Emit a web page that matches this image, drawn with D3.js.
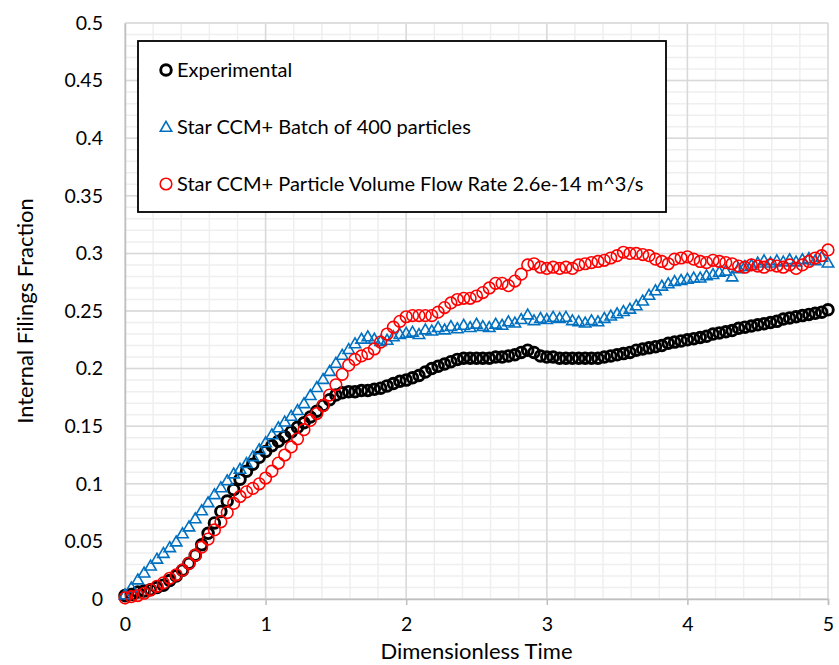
<!DOCTYPE html>
<html>
<head>
<meta charset="utf-8">
<script src="https://cdn.jsdelivr.net/npm/d3@7"></script>
<style>
  body { margin: 0; background: #fff; }
  svg text { font-family: Lato, "Open Sans", sans-serif; fill: #000; }
</style>
</head>
<body>
<svg id="chart" width="839" height="665"></svg>
<script>
// Sampling times (dimensionless), shared by all three series
const dimensionlessTime = [
  0.000, 0.045, 0.091, 0.136, 0.182, 0.227, 0.273, 0.318, 0.364, 0.409, 0.455,
  0.500, 0.545, 0.591, 0.636, 0.682, 0.727, 0.773, 0.818, 0.864, 0.909, 0.955,
  1.000, 1.045, 1.091, 1.136, 1.182, 1.227, 1.273, 1.318, 1.364, 1.409, 1.455,
  1.500, 1.545, 1.591, 1.636, 1.682, 1.727, 1.773, 1.818, 1.864, 1.909, 1.955,
  2.000, 2.045, 2.091, 2.136, 2.182, 2.227, 2.273, 2.318, 2.364, 2.409, 2.455,
  2.500, 2.545, 2.591, 2.636, 2.682, 2.727, 2.773, 2.818, 2.864, 2.909, 2.955,
  3.000, 3.045, 3.091, 3.136, 3.182, 3.227, 3.273, 3.318, 3.364, 3.409, 3.455,
  3.500, 3.545, 3.591, 3.636, 3.682, 3.727, 3.773, 3.818, 3.864, 3.909, 3.955,
  4.000, 4.045, 4.091, 4.136, 4.182, 4.227, 4.273, 4.318, 4.364, 4.409, 4.455,
  4.500, 4.545, 4.591, 4.636, 4.682, 4.727, 4.773, 4.818, 4.864, 4.909, 4.955,
  5.000
];

// Internal filings fraction, experiment
const experimental = [
  0.003, 0.004, 0.006, 0.007, 0.008, 0.010, 0.012, 0.016, 0.020, 0.025, 0.031,
  0.038, 0.047, 0.057, 0.066, 0.076, 0.085, 0.095, 0.104, 0.111, 0.117, 0.123,
  0.128, 0.133, 0.137, 0.141, 0.145, 0.149, 0.153, 0.158, 0.163, 0.168, 0.173,
  0.177, 0.179, 0.180, 0.180, 0.181, 0.181, 0.182, 0.183, 0.185, 0.187, 0.189,
  0.190, 0.192, 0.194, 0.197, 0.200, 0.202, 0.204, 0.206, 0.208, 0.209, 0.209,
  0.209, 0.209, 0.209, 0.210, 0.210, 0.211, 0.212, 0.214, 0.216, 0.214, 0.211,
  0.210, 0.210, 0.209, 0.209, 0.209, 0.209, 0.209, 0.209, 0.209, 0.210, 0.211,
  0.212, 0.213, 0.214, 0.216, 0.217, 0.218, 0.219, 0.220, 0.222, 0.223, 0.224,
  0.225, 0.226, 0.227, 0.228, 0.230, 0.231, 0.232, 0.233, 0.235, 0.236, 0.237,
  0.238, 0.239, 0.240, 0.241, 0.243, 0.244, 0.245, 0.246, 0.247, 0.248, 0.249,
  0.251
];

// Star CCM+ simulation, batch of 400 particles
const batch400 = [
  0.003, 0.009, 0.016, 0.022, 0.028, 0.034, 0.039, 0.044, 0.049, 0.056, 0.062,
  0.069, 0.076, 0.083, 0.090, 0.096, 0.102, 0.108, 0.112, 0.117, 0.123, 0.129,
  0.135, 0.142, 0.148, 0.153, 0.158, 0.163, 0.169, 0.176, 0.183, 0.190, 0.197,
  0.204, 0.211, 0.216, 0.221, 0.225, 0.227, 0.225, 0.223, 0.224, 0.227, 0.229,
  0.230, 0.231, 0.229, 0.233, 0.232, 0.235, 0.233, 0.236, 0.234, 0.237, 0.235,
  0.238, 0.236, 0.235, 0.238, 0.237, 0.240, 0.239, 0.242, 0.246, 0.241, 0.243,
  0.242, 0.244, 0.243, 0.244, 0.241, 0.240, 0.239, 0.241, 0.240, 0.243, 0.245,
  0.247, 0.249, 0.251, 0.254, 0.258, 0.263, 0.267, 0.271, 0.273, 0.275, 0.276,
  0.277, 0.278, 0.278, 0.280, 0.281, 0.283, 0.284, 0.279, 0.286, 0.288, 0.289,
  0.291, 0.293, 0.291, 0.293, 0.292, 0.294, 0.292, 0.294, 0.295, 0.293, 0.296,
  0.291
];

// Star CCM+ simulation, particle volume flow rate 2.6e-14 m^3/s
const volumeFlowRate = [
  0.001, 0.002, 0.003, 0.005, 0.008, 0.011, 0.014, 0.018, 0.021, 0.025, 0.031,
  0.038, 0.045, 0.052, 0.060, 0.067, 0.075, 0.083, 0.089, 0.093, 0.096, 0.100,
  0.105, 0.111, 0.118, 0.125, 0.132, 0.139, 0.147, 0.155, 0.161, 0.168, 0.177,
  0.186, 0.195, 0.203, 0.208, 0.211, 0.213, 0.217, 0.223, 0.230, 0.236, 0.241,
  0.245, 0.246, 0.246, 0.246, 0.246, 0.249, 0.253, 0.257, 0.260, 0.261, 0.261,
  0.263, 0.266, 0.270, 0.274, 0.274, 0.272, 0.276, 0.282, 0.290, 0.291, 0.288,
  0.287, 0.288, 0.287, 0.288, 0.287, 0.290, 0.291, 0.292, 0.293, 0.294, 0.296,
  0.298, 0.301, 0.300, 0.300, 0.299, 0.298, 0.295, 0.293, 0.291, 0.295, 0.296,
  0.297, 0.295, 0.293, 0.292, 0.294, 0.293, 0.292, 0.291, 0.289, 0.288, 0.290,
  0.289, 0.288, 0.290, 0.289, 0.288, 0.290, 0.287, 0.290, 0.293, 0.296, 0.298,
  0.303
];

const seriesNames = [
  "Experimental",
  "Star CCM+ Batch of 400 particles",
  "Star CCM+ Particle Volume Flow Rate 2.6e-14 m^3/s"
];

const xTicks = [0, 1, 2, 3, 4, 5];
const yTicks = [0, 0.05, 0.1, 0.15, 0.2, 0.25, 0.3, 0.35, 0.4, 0.45, 0.5];
const xTitle = "Dimensionless Time";
const yTitle = "Internal Filings Fraction";

const svg = d3.select("#chart");
const margin = { left: 125, right: 11, top: 23, bottom: 66 };
const W = 839, H = 665;

const x = d3.scaleLinear().domain([0, 5]).range([margin.left, W - margin.right]);
const y = d3.scaleLinear().domain([0, 0.5]).range([H - margin.bottom, margin.top]);

// Minor grid
const grid = svg.append("g");
grid.selectAll(".vminor").data(d3.range(0, 5.0001, 0.2)).join("line")
  .attr("x1", d => x(d)).attr("x2", d => x(d))
  .attr("y1", y(0)).attr("y2", y(0.5))
  .attr("stroke", "#efefef").attr("stroke-width", 1.5);
grid.selectAll(".hminor").data(d3.range(0, 0.5001, 0.01)).join("line")
  .attr("x1", x(0)).attr("x2", x(5))
  .attr("y1", d => y(d)).attr("y2", d => y(d))
  .attr("stroke", "#efefef").attr("stroke-width", 1.5);

// Major grid
grid.selectAll(".vmajor").data(xTicks).join("line")
  .attr("x1", d => x(d)).attr("x2", d => x(d))
  .attr("y1", y(0)).attr("y2", y(0.5))
  .attr("stroke", "#d9d9d9").attr("stroke-width", 1.5);
grid.selectAll(".hmajor").data(yTicks).join("line")
  .attr("x1", x(0)).attr("x2", x(5))
  .attr("y1", d => y(d)).attr("y2", d => y(d))
  .attr("stroke", "#d9d9d9").attr("stroke-width", 1.5);

// X axis
const xAxis = svg.append("g")
  .attr("transform", `translate(0,${y(0)})`)
  .call(d3.axisBottom(x).tickValues(xTicks).tickFormat(d3.format("d")).tickSizeOuter(0).tickSize(6).tickPadding(12));
xAxis.select(".domain").attr("stroke", "#bfbfbf").attr("stroke-width", 1.5);
xAxis.selectAll(".tick line").attr("stroke", "#bfbfbf").attr("stroke-width", 1.5);
xAxis.selectAll("text").style("font-size", "19.5px").attr("fill", "#000");

// Y axis (labels only)
const yAxis = svg.append("g")
  .attr("transform", `translate(${x(0)},0)`)
  .call(d3.axisLeft(y).tickValues(yTicks).tickFormat(d => d3.format("")(+d.toFixed(2))).tickSize(0).tickPadding(22));
yAxis.select(".domain").attr("stroke", "#bfbfbf").attr("stroke-width", 1.5);
yAxis.selectAll("text").style("font-size", "19.5px").attr("fill", "#000");

// Axis titles
svg.append("text")
  .attr("x", (x(0) + x(5)) / 2).attr("y", 659)
  .attr("text-anchor", "middle").style("font-size", "22px")
  .text(xTitle);
svg.append("text")
  .attr("transform", `translate(33,${(y(0) + y(0.5)) / 2}) rotate(-90)`)
  .attr("text-anchor", "middle").style("font-size", "22px")
  .text(yTitle);

// Series marks
const triangle = d3.symbol().type(d3.symbolTriangle).size(56);
const zip = vals => vals.map((v, i) => ({ t: dimensionlessTime[i], v }));

const marks = svg.append("g");
marks.append("g").selectAll("circle").data(zip(experimental)).join("circle")
  .attr("cx", d => x(d.t)).attr("cy", d => y(d.v)).attr("r", 5.3)
  .attr("fill", "none").attr("stroke", "#000").attr("stroke-width", 2.9);
marks.append("g").selectAll("path").data(zip(batch400)).join("path")
  .attr("d", triangle)
  .attr("transform", d => `translate(${x(d.t)},${y(d.v)})`)
  .attr("fill", "none").attr("stroke", "#0070c0").attr("stroke-width", 1.6);
marks.append("g").selectAll("circle").data(zip(volumeFlowRate)).join("circle")
  .attr("cx", d => x(d.t)).attr("cy", d => y(d.v)).attr("r", 5.8)
  .attr("fill", "none").attr("stroke", "#ff0000").attr("stroke-width", 1.6);

// Legend
const legend = svg.append("g");
legend.append("rect")
  .attr("x", 138).attr("y", 41).attr("width", 528).attr("height", 171)
  .attr("fill", "#fff").attr("stroke", "#000").attr("stroke-width", 1.8);
const rowsY = [70, 127, 184];
const lg = legend.selectAll(".item").data(seriesNames).join("g")
  .attr("transform", (d, i) => `translate(0,${rowsY[i]})`);
lg.filter((d, i) => i === 0).append("circle")
  .attr("cx", 166).attr("cy", 0).attr("r", 5.3)
  .attr("fill", "none").attr("stroke", "#000").attr("stroke-width", 2.9);
lg.filter((d, i) => i === 1).append("path")
  .attr("d", triangle).attr("transform", "translate(166,1)")
  .attr("fill", "none").attr("stroke", "#0070c0").attr("stroke-width", 1.6);
lg.filter((d, i) => i === 2).append("circle")
  .attr("cx", 166).attr("cy", 0).attr("r", 5.8)
  .attr("fill", "none").attr("stroke", "#ff0000").attr("stroke-width", 1.6);
lg.append("text")
  .attr("x", 177).attr("y", 0).attr("dy", "0.35em")
  .style("font-size", "20px")
  .text(d => d);
</script>
</body>
</html>
